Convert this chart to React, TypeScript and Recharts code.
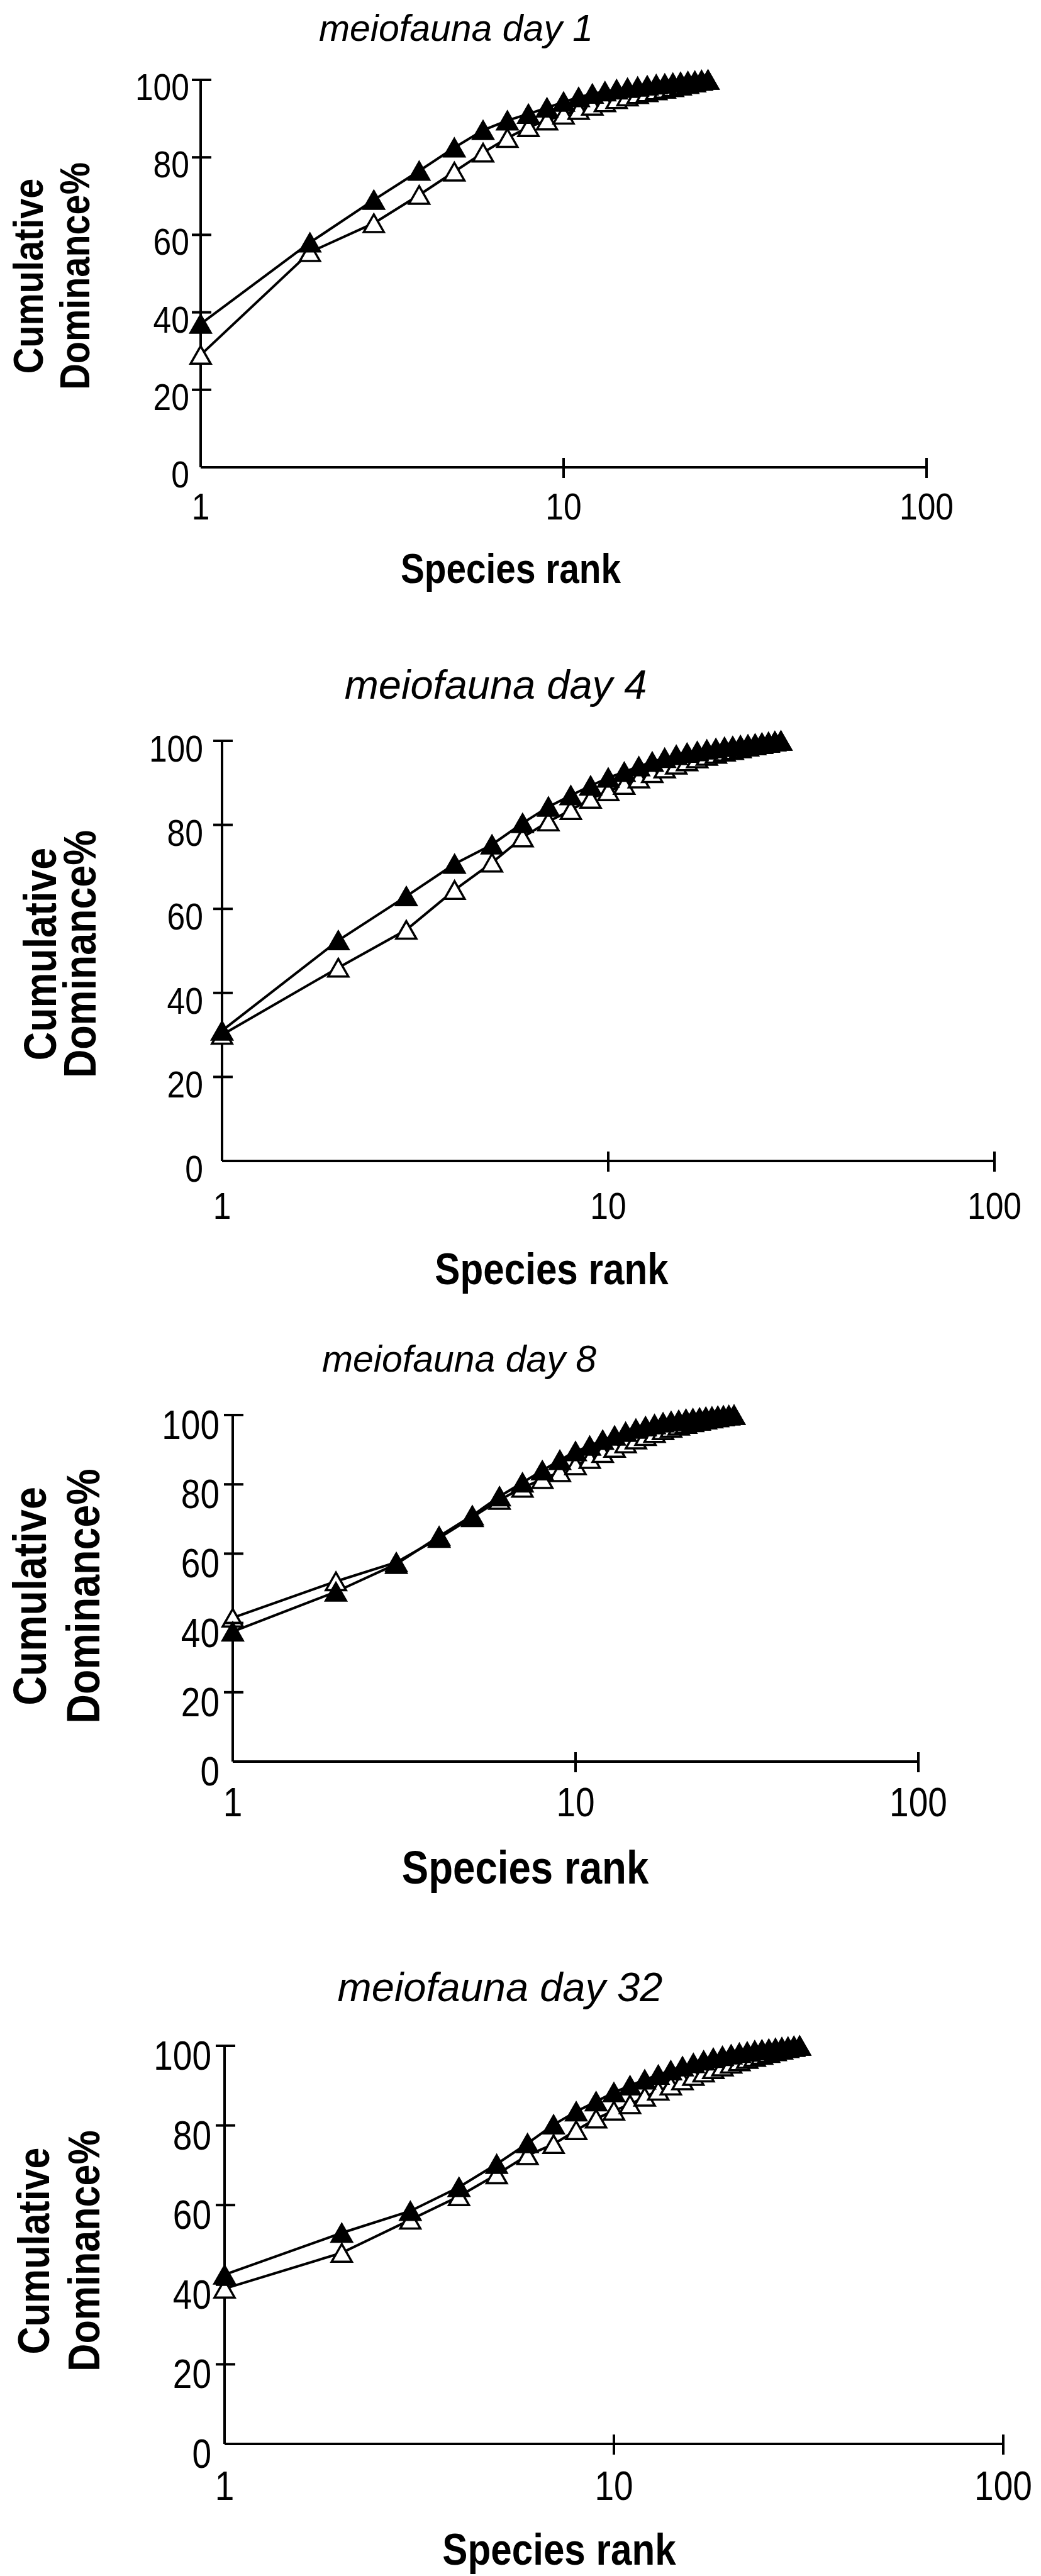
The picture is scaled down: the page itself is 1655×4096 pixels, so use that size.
import { LineChart, Line, XAxis, YAxis } from "recharts";

// Species rank axis (log) and dominance axis ticks
const X_TICKS = [1, 10, 100];
const Y_TICKS = [0, 20, 40, 60, 80, 100];

const TITLES = ["meiofauna day 1", "meiofauna day 4", "meiofauna day 8", "meiofauna day 32"];

// Cumulative dominance % per species rank (rank = index + 1)
// filled triangles / open triangles
const DAY1_FILLED = [37, 58, 69, 76.5, 82.5, 87, 89.5, 91.2, 92.8, 94.3, 95.5, 96.4, 97, 97.5, 97.9, 98.2, 98.5, 98.8, 99, 99.2, 99.4, 99.6, 99.7, 99.9, 100];
const DAY1_OPEN = [29, 55.5, 63, 70.3, 76.3, 81.2, 85, 87.8, 89.5, 91, 92.2, 93.3, 94.2, 95, 95.7, 96.3, 96.8, 97.3, 97.7, 98.1, 98.5, 98.9, 99.3, 99.7, 100];

const DAY4_FILLED = [31, 52.5, 63, 70.7, 75.3, 80.4, 84.3, 87, 89.3, 91.2, 92.6, 93.9, 95, 95.9, 96.6, 97.1, 97.5, 97.9, 98.2, 98.5, 98.7, 98.9, 99.1, 99.3, 99.5, 99.7, 99.9, 100];
const DAY4_OPEN = [30, 46, 55, 64.5, 71, 77, 80.8, 83.5, 86.2, 88, 89.5, 91, 92.3, 93.4, 94.3, 95.1, 95.8, 96.4, 96.9, 97.4, 97.8, 98.2, 98.6, 98.9, 99.2, 99.5, 99.8, 100];

const DAY8_FILLED = [37.5, 49, 57, 65, 71, 76.5, 80.5, 84, 87, 89.5, 91.1, 92.8, 94, 95.1, 96, 96.7, 97.3, 97.8, 98.2, 98.5, 98.8, 99, 99.2, 99.4, 99.5, 99.7, 99.8, 99.9, 100];
const DAY8_OPEN = [41.5, 52, 57.5, 64.5, 70.5, 75.5, 79, 81.5, 83.5, 85.5, 87.3, 89, 90.5, 91.8, 92.9, 93.9, 94.8, 95.6, 96.3, 96.9, 97.4, 97.9, 98.3, 98.7, 99, 99.3, 99.6, 99.8, 100];

const DAY32_FILLED = [42.5, 53, 58.5, 64.5, 70.3, 75.5, 80.2, 83.5, 86, 88.3, 90, 91.5, 92.7, 93.8, 94.8, 95.6, 96.3, 96.9, 97.4, 97.8, 98.2, 98.5, 98.8, 99, 99.2, 99.4, 99.6, 99.7, 99.9, 100];
const DAY32_OPEN = [39, 48, 56.3, 62.2, 67.7, 72.5, 75.3, 78.8, 81.7, 83.7, 85.3, 87.2, 88.7, 90, 91.3, 92.4, 93.3, 94.1, 94.8, 95.5, 96.1, 96.7, 97.2, 97.7, 98.2, 98.6, 99, 99.4, 99.7, 100];

const FONT = '"Liberation Sans", Arial, Helvetica, sans-serif';
const NARROW = 0.86; // the figure's sans is a condensed face
const PAGE_W = 1655;
const PAGE_H = 4096;

type Layout = {
  left: number; right: number; top: number; bottom: number;
  tickFont: number; yGap: number; yBase: number; xBase: number;
  title: { x: number; y: number; size: number };
  rank: { x: number; y: number; size: number };
  ylab: { c1: number; c2: number; cy: number; size: number };
};

const LAYOUTS: Layout[] = [
  { left: 319, right: 1473, top: 127, bottom: 743, tickFont: 60, yGap: 18, yBase: 32, xBase: 83,
    title: { x: 725, y: 65, size: 59 }, rank: { x: 812, y: 927, size: 66 }, ylab: { c1: 68, c2: 142, cy: 439, size: 67 } },
  { left: 353, right: 1581, top: 1178, bottom: 1846, tickFont: 60, yGap: 30, yBase: 33, xBase: 92,
    title: { x: 788, y: 1111, size: 65 }, rank: { x: 877, y: 2042, size: 70 }, ylab: { c1: 89, c2: 152, cy: 1517, size: 73 } },
  { left: 370, right: 1460, top: 2250, bottom: 2801, tickFont: 64, yGap: 21, yBase: 38, xBase: 87,
    title: { x: 730, y: 2181, size: 59 }, rank: { x: 835, y: 2995, size: 74 }, ylab: { c1: 73, c2: 158, cy: 2538, size: 75 } },
  { left: 357, right: 1595, top: 3253, bottom: 3886, tickFont: 64, yGap: 21, yBase: 38, xBase: 89,
    title: { x: 795, y: 3182, size: 65 }, rank: { x: 889, y: 4078, size: 70 }, ylab: { c1: 78, c2: 158, cy: 3579, size: 71 } },
];

const SERIES = [
  { filled: DAY1_FILLED, open: DAY1_OPEN },
  { filled: DAY4_FILLED, open: DAY4_OPEN },
  { filled: DAY8_FILLED, open: DAY8_OPEN },
  { filled: DAY32_FILLED, open: DAY32_OPEN },
];

const PAD_TOP = 40;
const PAD_BOTTOM = 130;
const AXIS_W = 10;
const AXIS_H = 10;

function triangle(cx: number, cy: number) {
  return `M${cx},${cy - 14}L${cx + 16},${cy + 14}L${cx - 16},${cy + 14}Z`;
}

function makeDot(solid: boolean) {
  return (p: any) => {
    if (p.cx == null || p.cy == null) return <g key={`n-${p.index}`} />;
    return (
      <path
        key={`${solid ? "f" : "o"}-${p.index}`}
        d={triangle(p.cx, p.cy)}
        fill={solid ? "#000" : "#fff"}
        stroke="#000"
        strokeWidth={3.5}
        strokeLinejoin="miter"
      />
    );
  };
}

function Panel({ filled, open, L }: { filled: number[]; open: number[]; L: Layout }) {
  const data = filled.map((v, i) => ({ rank: i + 1, filled: v, open: open[i] }));
  const height = PAD_TOP + (L.bottom - L.top) + AXIS_H + PAD_BOTTOM;

  const xTick = (p: any) => {
    const { x, y, payload } = p;
    return (
      <g>
        {payload.value !== 1 && <line x1={x} x2={x} y1={y - 15} y2={y + 17} stroke="#000" strokeWidth={4} />}
        <text
          transform={`translate(${x},${y + L.xBase}) scale(${NARROW},1)`}
          textAnchor="middle"
          fontSize={L.tickFont}
          fontFamily={FONT}
          fill="#000"
        >
          {payload.value}
        </text>
      </g>
    );
  };

  const yTick = (p: any) => {
    const { x, y, payload } = p;
    return (
      <g>
        {payload.value !== 0 && <line x1={x - 14} x2={x + 17} y1={y} y2={y} stroke="#000" strokeWidth={4} />}
        <text
          transform={`translate(${x - L.yGap},${y + L.yBase}) scale(${NARROW},1)`}
          textAnchor="end"
          fontSize={L.tickFont}
          fontFamily={FONT}
          fill="#000"
        >
          {payload.value}
        </text>
      </g>
    );
  };

  return (
    <div style={{ position: "absolute", left: 0, top: L.top - PAD_TOP }}>
      <LineChart
        width={PAGE_W}
        height={height}
        data={data}
        margin={{ top: PAD_TOP, right: PAGE_W - L.right, bottom: PAD_BOTTOM, left: L.left - AXIS_W }}
      >
        <XAxis
          dataKey="rank"
          type="number"
          scale="log"
          domain={[1, 100]}
          ticks={X_TICKS}
          interval={0}
          height={AXIS_H}
          tickSize={0}
          tickMargin={0}
          tickLine={false}
          axisLine={{ stroke: "#000", strokeWidth: 4 }}
          tick={xTick}
        />
        <YAxis
          type="number"
          domain={[0, 100]}
          ticks={Y_TICKS}
          interval={0}
          width={AXIS_W}
          tickSize={0}
          tickMargin={0}
          tickLine={false}
          axisLine={{ stroke: "#000", strokeWidth: 4 }}
          tick={yTick}
        />
        <Line
          dataKey="open"
          type="linear"
          stroke="#000"
          strokeWidth={4}
          dot={makeDot(false)}
          activeDot={false}
          isAnimationActive={false}
        />
        <Line
          dataKey="filled"
          type="linear"
          stroke="#000"
          strokeWidth={4}
          dot={makeDot(true)}
          activeDot={false}
          isAnimationActive={false}
        />
      </LineChart>
    </div>
  );
}

export default function App() {
  return (
    <div
      style={{
        position: "absolute",
        left: 0,
        top: 0,
        width: PAGE_W,
        height: PAGE_H,
        background: "#fff",
        overflow: "hidden",
      }}
    >
      {SERIES.map((s, i) => (
        <Panel key={i} filled={s.filled} open={s.open} L={LAYOUTS[i]} />
      ))}
      <svg
        width={PAGE_W}
        height={PAGE_H}
        style={{ position: "absolute", left: 0, top: 0, pointerEvents: "none" }}
      >
        {LAYOUTS.map((L, i) => (
          <g key={i} fontFamily={FONT} fill="#000">
            <text x={L.title.x} y={L.title.y} textAnchor="middle" fontSize={L.title.size} fontStyle="italic">
              {TITLES[i]}
            </text>
            <text
              transform={`translate(${L.rank.x},${L.rank.y}) scale(${NARROW},1)`}
              textAnchor="middle"
              fontSize={L.rank.size}
              fontWeight="bold"
            >
              Species rank
            </text>
            <text
              transform={`translate(${L.ylab.c1},${L.ylab.cy}) rotate(-90) scale(${NARROW},1)`}
              textAnchor="middle"
              fontSize={L.ylab.size}
              fontWeight="bold"
            >
              Cumulative
            </text>
            <text
              transform={`translate(${L.ylab.c2},${L.ylab.cy}) rotate(-90) scale(${NARROW},1)`}
              textAnchor="middle"
              fontSize={L.ylab.size}
              fontWeight="bold"
            >
              Dominance%
            </text>
          </g>
        ))}
      </svg>
    </div>
  );
}
